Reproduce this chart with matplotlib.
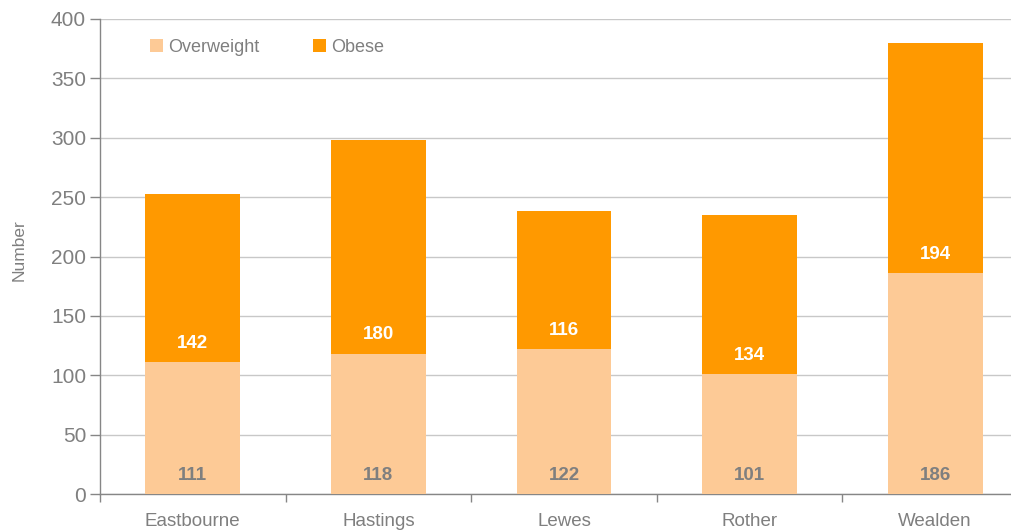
import matplotlib
matplotlib.use("Agg")
import matplotlib.pyplot as plt
from matplotlib.patches import Patch
import numpy as np

categories = ["Eastbourne", "Hastings", "Lewes", "Rother", "Wealden"]
overweight = [111, 118, 122, 101, 186]
obese = [142, 180, 116, 134, 194]
yticks = [0, 50, 100, 150, 200, 250, 300, 350, 400]

plt.rcParams['font.family'] = ['Liberation Sans', 'DejaVu Sans']

C_OW = "#FDCA96"
C_OB = "#FF9900"
GRAY = "#7F7F7F"

fig = plt.figure(figsize=(10.11, 5.32), dpi=100)
W, H = 1011, 532
AW = 928
ax = fig.add_axes([100 / W, 38 / H, AW / W, 475 / H])

x = np.arange(len(categories))
bw = 0.51
ax.bar(x, overweight, bw, color=C_OW, zorder=3, label="Overweight")
ax.bar(x, obese, bw, bottom=overweight, color=C_OB, zorder=3, label="Obese")

for xi, ow, ob in zip(x, overweight, obese):
    ax.text(xi, 16, f"{ow}", ha="center", va="center", fontsize=13.5,
            fontweight="bold", color=GRAY, zorder=4)
    ax.text(xi, ow + 16, f"{ob}", ha="center", va="center", fontsize=13.5,
            fontweight="bold", color="white", zorder=4)

ax.set_xlim(-0.5, len(categories) - 0.5)
ax.set_ylim(0, 400)
ax.set_yticks(yticks)
ax.tick_params(axis="y", labelsize=15, labelcolor=GRAY, color="#868686",
               length=7, width=1, pad=3)
ax.set_xticks(x)
ax.set_xticklabels(categories)
ax.set_xticks(np.arange(-0.5, len(categories) - 0.5, 1.0), minor=True)
ax.tick_params(axis="x", which="major", length=0, labelsize=13.5,
               labelcolor=GRAY, pad=14)
ax.tick_params(axis="x", which="minor", length=6, color="#868686", width=1)

ax.grid(axis="y", color="#C8C8C8", linewidth=1, zorder=0)
for s in ["top", "right"]:
    ax.spines[s].set_visible(False)
for s in ["left", "bottom"]:
    ax.spines[s].set_color("#868686")
    ax.spines[s].set_linewidth(1)

fig.text(19 / W, 1 - 250 / H, "Number", rotation=90, ha="center", va="center",
         fontsize=12.5, color=GRAY)

handles = [Patch(facecolor=C_OW, edgecolor="none"),
           Patch(facecolor=C_OB, edgecolor="none")]
leg = ax.legend(handles, ["Overweight", "Obese"], ncol=2, frameon=False,
                loc="center left", bbox_to_anchor=(50 / AW, 1 - 28 / 475),
                fontsize=13, handlelength=0.7, handleheight=0.7,
                handletextpad=0.3, columnspacing=3.0, borderaxespad=0,
                borderpad=0)
for t in leg.get_texts():
    t.set_color(GRAY)

fig.savefig("out.png", dpi=100)
